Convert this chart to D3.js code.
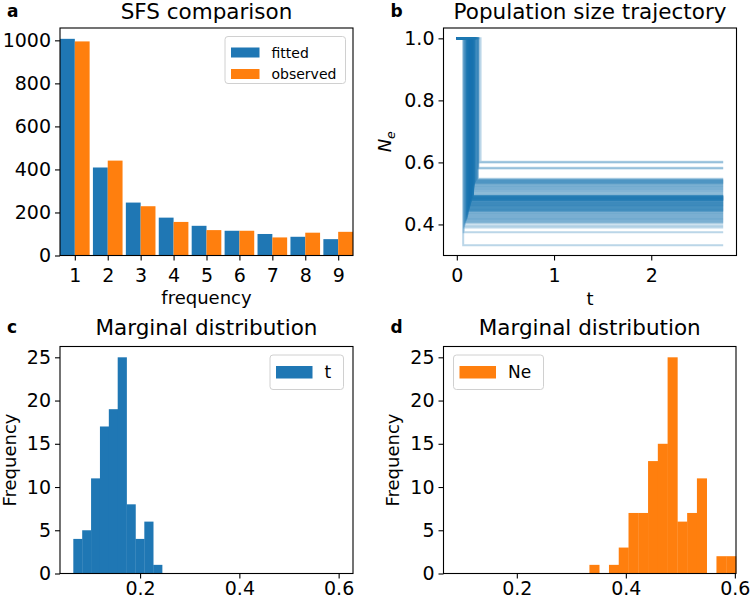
<!DOCTYPE html>
<html><head><meta charset="utf-8">
<script src="https://cdn.jsdelivr.net/npm/d3@7"></script>
<style>body{margin:0;background:#fff} text{font-family:"DejaVu Sans",sans-serif;fill:#000}</style>
</head><body><svg id="chart" width="750" height="602"></svg>
<script>
// ---------- data ----------
const sfsCategories = [1, 2, 3, 4, 5, 6, 7, 8, 9];
const sfsFitted   = [1007, 409, 246, 176, 138, 115, 100, 87, 76];
const sfsObserved = [995, 441, 229, 156, 118, 115, 84, 106, 110];
const sfsYTicks = [0, 200, 400, 600, 800, 1000];
const sfsSeries = ["fitted", "observed"];

// posterior samples (sorted), t = time of size change, Ne = new size
const tSamples = [
  0.0655, 0.071, 0.076, 0.081,
  0.085, 0.089, 0.093, 0.096, 0.099,
  0.102, 0.104, 0.105, 0.107, 0.109, 0.110, 0.112, 0.113, 0.115, 0.116, 0.118,
  0.120, 0.121, 0.122, 0.123, 0.124, 0.125, 0.126, 0.127, 0.128, 0.129, 0.130, 0.131, 0.132, 0.133, 0.134, 0.135, 0.136,
  0.138, 0.139, 0.140, 0.141, 0.142, 0.143, 0.1435, 0.144, 0.145, 0.146, 0.147, 0.148, 0.149, 0.150, 0.151, 0.152, 0.153, 0.1535, 0.154,
  0.156, 0.1565, 0.157, 0.158, 0.1585, 0.159, 0.160, 0.1605, 0.161, 0.162, 0.1625, 0.163, 0.164, 0.1645, 0.165, 0.166, 0.1665, 0.167, 0.168, 0.1685, 0.169, 0.170, 0.1705, 0.171, 0.172,
  0.174, 0.176, 0.178, 0.180, 0.182, 0.184, 0.187, 0.190,
  0.193, 0.197, 0.201, 0.205,
  0.210, 0.213, 0.216, 0.219, 0.222, 0.225,
  0.2443
];
const neSamples = [
  0.3332,
  0.375,
  0.390, 0.396, 0.403,
  0.407, 0.409, 0.412, 0.414, 0.417, 0.419, 0.421,
  0.424, 0.427, 0.429, 0.432, 0.434, 0.437, 0.439,
  0.442, 0.443, 0.444, 0.446, 0.447, 0.448, 0.449, 0.450, 0.452, 0.453, 0.455, 0.456, 0.457,
  0.459, 0.460, 0.461, 0.462, 0.463, 0.464, 0.465, 0.467, 0.468, 0.469, 0.470, 0.471, 0.473, 0.474, 0.475,
  0.477, 0.4775, 0.478, 0.479, 0.4795, 0.480, 0.481, 0.4815, 0.482, 0.483, 0.4835, 0.484, 0.485, 0.4855, 0.486, 0.487, 0.4875, 0.488, 0.489, 0.4895, 0.490, 0.491, 0.4915, 0.492, 0.493,
  0.496, 0.499, 0.502, 0.505, 0.508, 0.511,
  0.514, 0.516, 0.519, 0.521, 0.524, 0.526, 0.529,
  0.531, 0.533, 0.534, 0.536, 0.537, 0.539, 0.540, 0.542, 0.543, 0.545, 0.547,
  0.580, 0.583,
  0.600, 0.6021
];
const initialNe = 1.0;
const trajectoryEnd = 2.74;
const tBinCount = 10;
const neBinCount = 15;
const trajXTicks = [0, 1, 2];
const trajYTicks = [0.4, 0.6, 0.8, 1.0];
const histXTicks = [0.2, 0.4, 0.6];
const histYTicks = [0, 5, 10, 15, 20, 25];

const BLUE = "#1f77b4", ORANGE = "#ff7f0e";
const svg = d3.select("#chart");
const TICK_FS = 19, LABEL_FS = 18, TITLE_FS = 21.5;

function styleAxis(g) {
  g.select(".domain").remove();
  g.selectAll(".tick line").attr("stroke", "#000").attr("stroke-width", 1.1);
  g.selectAll(".tick text").attr("font-size", TICK_FS).attr("font-family", "DejaVu Sans").attr("fill", "#000");
}
function frame(box) {
  svg.append("rect").attr("x", box.x0).attr("y", box.y0)
    .attr("width", box.x1 - box.x0).attr("height", box.y1 - box.y0)
    .attr("fill", "none").attr("stroke", "#000").attr("stroke-width", 1.1);
}
function axes(box, x, y, xt, yt, xfmt, yfmt, xpad) {
  const gx = svg.append("g").attr("transform", `translate(0,${box.y1})`)
    .call(d3.axisBottom(x).tickValues(xt).tickSize(5).tickPadding(xpad).tickFormat(xfmt));
  styleAxis(gx);
  const gy = svg.append("g").attr("transform", `translate(${box.x0},0)`)
    .call(d3.axisLeft(y).tickValues(yt).tickSize(5).tickPadding(4).tickFormat(yfmt));
  styleAxis(gy);
}
function title(box, txt, letter, base) {
  svg.append("text").attr("x", (box.x0 + box.x1) / 2).attr("y", base)
    .attr("text-anchor", "middle").attr("font-size", TITLE_FS).text(txt);
  svg.append("text").attr("x", box.x0 - 53).attr("y", base - 2)
    .attr("font-size", 17).attr("font-weight", "bold").text(letter);
}
function legend(items, bx, by, bw, bh, fs, pw, ph, rowH) {
  svg.append("rect").attr("x", bx).attr("y", by).attr("width", bw).attr("height", bh)
    .attr("rx", 3).attr("fill", "#fff").attr("fill-opacity", 0.8)
    .attr("stroke", "#d0d0d0").attr("stroke-width", 1);
  items.forEach((it, i) => {
    const cy = by + 11 + ph / 2 + i * rowH;
    svg.append("rect").attr("x", bx + 6).attr("y", cy - ph / 2).attr("width", pw).attr("height", ph).attr("fill", it.color);
    svg.append("text").attr("x", bx + 6 + pw + 12).attr("y", cy).attr("dy", "0.36em")
      .attr("font-size", fs).text(it.label);
  });
}

// ---------- panel a ----------
{
  const box = {x0: 60, x1: 353, y0: 28, y1: 255.5};
  const x = d3.scaleLinear().domain([0.55, 9.45]).range([box.x0, box.x1]);
  const y = d3.scaleLinear().domain([0, d3.max(sfsFitted.concat(sfsObserved)) * 1.05]).range([box.y1, box.y0]);
  const w = 0.45;
  svg.append("g").selectAll("rect").data(sfsCategories).join("rect")
    .attr("x", (d) => x(d - w)).attr("width", x(w) - x(0))
    .attr("y", (d, i) => y(sfsFitted[i])).attr("height", (d, i) => y(0) - y(sfsFitted[i]))
    .attr("fill", BLUE);
  svg.append("g").selectAll("rect").data(sfsCategories).join("rect")
    .attr("x", (d) => x(d)).attr("width", x(w) - x(0))
    .attr("y", (d, i) => y(sfsObserved[i])).attr("height", (d, i) => y(0) - y(sfsObserved[i]))
    .attr("fill", ORANGE);
  frame(box);
  axes(box, x, y, sfsCategories, sfsYTicks, d3.format("d"), d3.format("d"), 8);
  svg.append("text").attr("x", (box.x0 + box.x1) / 2).attr("y", 304).attr("text-anchor", "middle")
    .attr("font-size", LABEL_FS).text("frequency");
  title(box, "SFS comparison", "a", 19);
  legend([{label: sfsSeries[0], color: BLUE}, {label: sfsSeries[1], color: ORANGE}],
    225, 36.5, 120.5, 47, 14, 28.5, 10, 21.5);
}

// ---------- panel b ----------
{
  const box = {x0: 443.5, x1: 736.5, y0: 28, y1: 255.5};
  const xmax = trajectoryEnd, xr = xmax * 0.05;
  const nmin = d3.min(neSamples), nr = (initialNe - nmin) * 0.05;
  const x = d3.scaleLinear().domain([-xr, xmax + xr]).range([box.x0, box.x1]);
  const y = d3.scaleLinear().domain([nmin - nr, initialNe + nr]).range([box.y1, box.y0]);
  const line = d3.line().x((d) => x(d[0])).y((d) => y(d[1])).curve(d3.curveStepAfter);
  svg.append("g").selectAll("path").data(tSamples.map((t, i) => [[0, initialNe], [t, neSamples[i]], [trajectoryEnd, neSamples[i]]]))
    .join("path").attr("d", line).attr("fill", "none").attr("stroke", BLUE)
    .attr("stroke-opacity", 0.3).attr("stroke-width", 2);
  frame(box);
  axes(box, x, y, trajXTicks, trajYTicks, d3.format("d"), d3.format(".1f"), 8);
  svg.append("text").attr("x", (box.x0 + box.x1) / 2).attr("y", 305).attr("text-anchor", "middle")
    .attr("font-size", LABEL_FS).text("t");
  const yl = svg.append("text").attr("transform", `translate(391,${(box.y0 + box.y1) / 2}) rotate(-90)`)
    .attr("text-anchor", "middle").attr("font-size", LABEL_FS);
  yl.append("tspan").attr("font-style", "italic").text("N");
  yl.append("tspan").attr("font-style", "italic").attr("font-size", 12.5).attr("dy", 4).text("e");
  title(box, "Population size trajectory", "b", 19);
}

// ---------- histograms c, d ----------
function histogram(values, nbins) {
  const lo = d3.min(values), hi = d3.max(values), w = (hi - lo) / nbins;
  const counts = new Array(nbins).fill(0);
  values.forEach((v) => { counts[Math.min(nbins - 1, Math.floor((v - lo) / w))] += 1; });
  return counts.map((c, i) => ({x0: lo + i * w, x1: lo + (i + 1) * w, n: c}));
}
function histPanel(box, values, nbins, color, xdom, letter, legendItem, legendX) {
  const bins = histogram(values, nbins);
  const x = d3.scaleLinear().domain(xdom).range([box.x0, box.x1]);
  const y = d3.scaleLinear().domain([0, d3.max(bins, (b) => b.n) * 1.05]).range([box.y1, box.y0]);
  svg.append("g").selectAll("rect").data(bins.filter((b) => b.n > 0)).join("rect")
    .attr("x", (b) => x(b.x0)).attr("width", (b) => x(b.x1) - x(b.x0) + 0.3)
    .attr("y", (b) => y(b.n)).attr("height", (b) => y(0) - y(b.n)).attr("fill", color);
  frame(box);
  axes(box, x, y, histXTicks, histYTicks, d3.format(".1f"), d3.format("d"), 3.5);
  svg.append("text").attr("transform", `translate(${box.x0 - 44.5},${(box.y0 + box.y1) / 2}) rotate(-90)`)
    .attr("text-anchor", "middle").attr("font-size", LABEL_FS).text("Frequency");
  title(box, "Marginal distribution", letter, 335);
  legend([{label: legendItem, color: color}], legendX.x, 355, legendX.w, 34.5, 17, 36.5, 12.5, 0);
}
{
  const tmin = d3.min(tSamples), nmax = d3.max(neSamples), m = (nmax - tmin) * 0.05;
  histPanel({x0: 60, x1: 353, y0: 346.5, y1: 573.5}, tSamples, tBinCount, BLUE,
    [tmin - m, nmax + m], "c", "t", {x: 270, w: 73.5});
  histPanel({x0: 443.5, x1: 736, y0: 346.5, y1: 573.5}, neSamples, neBinCount, ORANGE,
    [tmin, nmax], "d", "Ne", {x: 453.5, w: 90});
}
</script></body></html>
